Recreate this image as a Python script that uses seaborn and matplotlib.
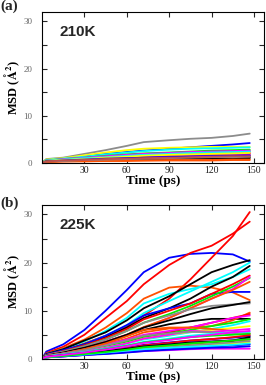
import numpy as np
import pandas as pd
import matplotlib
matplotlib.use('Agg')
import matplotlib.pyplot as plt
from matplotlib.ticker import MultipleLocator
import seaborn as sns

# time grid (ps)
t = [0, 3, 15, 30, 45, 60, 72, 90, 105, 120, 135, 147]

# grace-like colours
BLACK, RED, GREEN, BLUE = '#000000', '#ff0000', '#00ee00', '#0000ff'
YELLOW, GRAY, CYAN, MAGENTA = '#ffff00', '#8c8c8c', '#00ffff', '#ff00ff'
ORANGE, VIOLET, BROWN = '#ff5000', '#9400d3', '#c0504d'

# ---- 210K curves ----
colors_210 = [GRAY, BLUE, YELLOW, CYAN, GREEN, GREEN, MAGENTA, MAGENTA, RED, RED,
              VIOLET, CYAN, YELLOW, BLUE, BLACK, BLACK, ORANGE, ORANGE, GRAY, BROWN]
msd_210 = [
    [0, 0.8, 1.1, 1.9, 2.7, 3.6, 4.4, 4.8, 5.1, 5.3, 5.7, 6.2],
    [0, 0.6, 0.9, 1.4, 1.9, 2.3, 2.6, 3.0, 3.3, 3.6, 3.9, 4.2],
    [0, 0.7, 1.0, 1.6, 2.2, 2.7, 3.0, 3.2, 3.3, 3.4, 3.4, 3.4],
    [0, 0.6, 0.9, 1.3, 1.8, 2.2, 2.5, 2.8, 3.0, 3.1, 3.2, 3.3],
    [0, 0.5, 0.8, 1.1, 1.5, 1.8, 2.0, 2.2, 2.4, 2.6, 2.7, 2.8],
    [0, 0.5, 0.7, 1.0, 1.3, 1.6, 1.8, 2.0, 2.2, 2.3, 2.4, 2.5],
    [0, 0.5, 0.8, 1.1, 1.4, 1.7, 1.9, 2.1, 2.3, 2.4, 2.5, 2.6],
    [0, 0.4, 0.6, 0.9, 1.2, 1.4, 1.6, 1.8, 1.9, 2.0, 2.1, 2.2],
    [0, 0.4, 0.6, 0.9, 1.1, 1.3, 1.5, 1.6, 1.7, 1.8, 1.9, 2.0],
    [0, 0.4, 0.5, 0.7, 0.9, 1.1, 1.2, 1.3, 1.4, 1.5, 1.6, 1.6],
    [0, 0.4, 0.6, 0.8, 1.0, 1.2, 1.3, 1.4, 1.5, 1.6, 1.7, 1.8],
    [0, 0.5, 0.7, 1.0, 1.2, 1.5, 1.7, 1.9, 2.1, 2.2, 2.3, 2.4],
    [0, 0.4, 0.6, 0.8, 1.1, 1.3, 1.5, 1.7, 1.8, 1.9, 2.0, 2.1],
    [0, 0.3, 0.5, 0.7, 0.9, 1.0, 1.1, 1.2, 1.3, 1.4, 1.4, 1.5],
    [0, 0.3, 0.4, 0.5, 0.7, 0.8, 0.9, 1.0, 1.0, 1.1, 1.1, 1.2],
    [0, 0.3, 0.4, 0.5, 0.6, 0.7, 0.8, 0.8, 0.9, 0.9, 1.0, 1.0],
    [0, 0.2, 0.3, 0.4, 0.4, 0.5, 0.5, 0.6, 0.6, 0.6, 0.7, 0.7],
    [0, 0.2, 0.3, 0.3, 0.4, 0.4, 0.5, 0.5, 0.5, 0.5, 0.6, 0.6],
    [0, 0.3, 0.4, 0.6, 0.7, 0.8, 0.9, 1.0, 1.1, 1.2, 1.2, 1.3],
    [0, 0.3, 0.5, 0.6, 0.8, 0.9, 1.0, 1.1, 1.2, 1.3, 1.4, 1.4],
]

# ---- 225K curves ----
colors_225 = [BLUE, RED, RED, ORANGE, CYAN, CYAN, BLACK, BLACK, BLUE, RED,
              GREEN, MAGENTA, ORANGE, GRAY, BLACK, BLACK, ORANGE, RED, MAGENTA, GREEN,
              CYAN, YELLOW, ORANGE, MAGENTA, GRAY, CYAN, GREEN, BLUE, RED, MAGENTA,
              ORANGE, YELLOW, GRAY, BLUE, MAGENTA, BLUE, BLACK, CYAN, GREEN, MAGENTA]
msd_225 = [
    [0, 1.5, 3.0, 6.0, 10.0, 14.3, 18.0, 21.0, 21.8, 22.0, 21.7, 20.2],
    [0, 1.2, 2.5, 5.0, 8.5, 12.0, 15.5, 19.5, 22.0, 23.5, 26.0, 28.5],
    [0, 0.8, 1.8, 3.2, 4.8, 6.8, 9.0, 12.5, 16.5, 21.0, 25.5, 30.5],
    [0, 1.0, 2.2, 4.0, 6.5, 9.5, 12.5, 14.8, 15.2, 14.8, 13.8, 12.2],
    [0, 1.0, 2.0, 3.6, 5.8, 8.5, 11.5, 13.5, 14.5, 15.5, 17.0, 18.6],
    [0, 0.8, 1.6, 3.0, 4.8, 7.0, 9.5, 12.0, 14.0, 16.0, 18.0, 20.0],
    [0, 1.0, 2.0, 3.8, 5.5, 8.0, 10.5, 13.0, 15.5, 18.0, 19.5, 20.5],
    [0, 0.8, 1.6, 3.0, 4.5, 6.5, 8.5, 10.5, 12.5, 15.0, 17.0, 19.3],
    [0, 0.9, 1.8, 3.0, 4.8, 7.0, 9.0, 10.5, 11.5, 13.5, 13.9, 13.9],
    [0, 0.8, 1.6, 2.8, 4.3, 6.2, 8.2, 10.0, 11.5, 13.5, 15.5, 17.3],
    [0, 0.7, 1.4, 2.6, 4.0, 5.8, 7.5, 9.3, 11.0, 13.0, 15.0, 16.8],
    [0, 0.7, 1.4, 2.4, 3.6, 5.0, 6.5, 8.5, 10.5, 12.5, 14.5, 17.0],
    [0, 0.7, 1.3, 2.3, 3.5, 5.0, 6.6, 8.5, 10.5, 12.5, 14.3, 16.0],
    [0, 0.8, 1.5, 2.6, 4.0, 5.8, 7.5, 9.0, 10.3, 11.0, 11.3, 11.5],
    [0, 0.7, 1.3, 2.3, 3.5, 5.0, 6.5, 8.0, 9.3, 10.5, 11.2, 11.8],
    [0, 0.6, 1.2, 2.2, 3.3, 4.8, 6.0, 7.2, 7.8, 8.3, 8.3, 8.3],
    [0, 0.6, 1.1, 2.0, 3.0, 4.2, 5.5, 6.3, 6.5, 6.8, 8.0, 9.6],
    [0, 0.5, 1.0, 1.8, 2.8, 3.8, 4.8, 5.5, 6.5, 7.5, 8.5, 9.3],
    [0, 0.6, 1.1, 1.9, 2.9, 4.0, 5.0, 5.8, 6.5, 7.5, 8.5, 9.0],
    [0, 0.5, 0.9, 1.6, 2.5, 3.5, 4.5, 5.3, 6.0, 6.8, 7.5, 8.2],
    [0, 0.5, 0.9, 1.5, 2.3, 3.2, 4.0, 4.8, 5.5, 6.2, 7.0, 7.8],
    [0, 0.5, 0.9, 1.5, 2.3, 3.2, 4.2, 5.0, 5.6, 6.0, 6.4, 6.8],
    [0, 0.6, 1.1, 2.0, 3.2, 4.7, 6.0, 6.5, 6.5, 6.2, 5.8, 5.3],
    [0, 0.5, 0.9, 1.5, 2.3, 3.2, 4.2, 5.0, 5.8, 5.6, 5.9, 6.2],
    [0, 0.6, 1.1, 1.8, 2.8, 3.8, 4.8, 5.3, 5.6, 5.5, 5.2, 5.0],
    [0, 0.5, 0.9, 1.4, 2.1, 2.8, 3.5, 4.2, 4.8, 5.2, 5.5, 5.6],
    [0, 0.4, 0.8, 1.3, 2.0, 2.7, 3.4, 4.0, 4.5, 4.8, 5.0, 5.2],
    [0, 0.4, 0.8, 1.2, 1.7, 2.3, 2.9, 3.4, 3.8, 4.1, 4.4, 4.7],
    [0, 0.4, 0.7, 1.1, 1.6, 2.2, 2.8, 3.3, 3.8, 4.1, 4.5, 4.9],
    [0, 0.4, 0.7, 1.1, 1.6, 2.1, 2.6, 3.0, 3.4, 3.6, 3.9, 4.2],
    [0, 0.3, 0.6, 1.0, 1.4, 1.8, 2.3, 2.7, 3.1, 3.4, 3.7, 4.0],
    [0, 0.3, 0.6, 0.9, 1.3, 1.7, 2.1, 2.4, 2.7, 3.0, 3.2, 3.5],
    [0, 0.3, 0.6, 0.9, 1.2, 1.6, 2.0, 2.4, 2.8, 3.1, 3.4, 3.7],
    [0, 0.3, 0.5, 0.8, 1.1, 1.4, 1.7, 2.0, 2.3, 2.5, 2.8, 3.0],
    [0, 0.3, 0.5, 0.8, 1.1, 1.4, 1.6, 1.8, 2.0, 2.1, 2.1, 2.1],
    [0, 0.3, 0.5, 0.8, 1.0, 1.3, 1.6, 1.9, 2.1, 2.3, 2.4, 2.6],
    [0, 0.4, 0.7, 1.1, 1.6, 2.1, 2.6, 3.0, 3.4, 3.6, 3.8, 4.5],
    [0, 0.3, 0.6, 0.9, 1.3, 1.7, 2.0, 2.3, 2.5, 2.7, 2.9, 3.2],
    [0, 0.3, 0.6, 1.0, 1.4, 1.9, 2.4, 2.8, 3.2, 3.5, 3.8, 4.1],
    [0, 0.4, 0.8, 1.3, 1.9, 2.6, 3.3, 3.9, 4.5, 5.0, 5.5, 5.8],
]

sns.set_style('ticks')
plt.rcParams['font.family'] = ['Liberation Serif', 'DejaVu Serif']
plt.rcParams['mathtext.fontset'] = 'stix'

fig = plt.figure(figsize=(2.66, 3.85), dpi=100)
ax_a = fig.add_axes([0.158, 0.577, 0.834, 0.392])
ax_b = fig.add_axes([0.158, 0.068, 0.834, 0.400])


def draw_panel(ax, curves, colors, temp_label):
    for vals, c in zip(curves, colors):
        sns.lineplot(x=t, y=vals, color=c, lw=1.3, ax=ax)
    ax.set_xlim(0, 157)
    ax.set_ylim(0, 32)
    ax.set_xticks([30, 60, 90, 120, 150])
    ax.set_yticks([0, 10, 20, 30])
    ax.yaxis.set_minor_locator(MultipleLocator(5))
    ax.tick_params(which='both', direction='in', top=True, right=True,
                   length=3.5, width=0.8)
    ax.tick_params(axis='x', labelsize=7, labelcolor='#222222', pad=2)
    ax.tick_params(axis='y', labelsize=6.5, labelcolor='#666666', pad=7)
    for s in ax.spines.values():
        s.set_linewidth(0.8)
        s.set_color('black')
    ax.set_xlabel('Time (ps)', fontsize=9.5, fontweight='bold', labelpad=0, color='black')
    ax.set_ylabel(r'MSD ($\mathbf{\AA^2}$)', fontsize=9, fontweight='bold', labelpad=1,
                  color='black')
    ax.text(0.077, 0.915, temp_label, transform=ax.transAxes, va='top', ha='left',
            fontsize=11, fontweight='bold', family=['Liberation Sans', 'DejaVu Sans'])


draw_panel(ax_a, msd_210, colors_210, '210K')
draw_panel(ax_b, msd_225, colors_225, '225K')

fig.text(0.0, 1.0, '(a)', va='top', ha='left', fontsize=11, fontweight='bold')
fig.text(0.0, 0.49, '(b)', va='top', ha='left', fontsize=11, fontweight='bold')

plt.savefig('out.png', dpi=100)
